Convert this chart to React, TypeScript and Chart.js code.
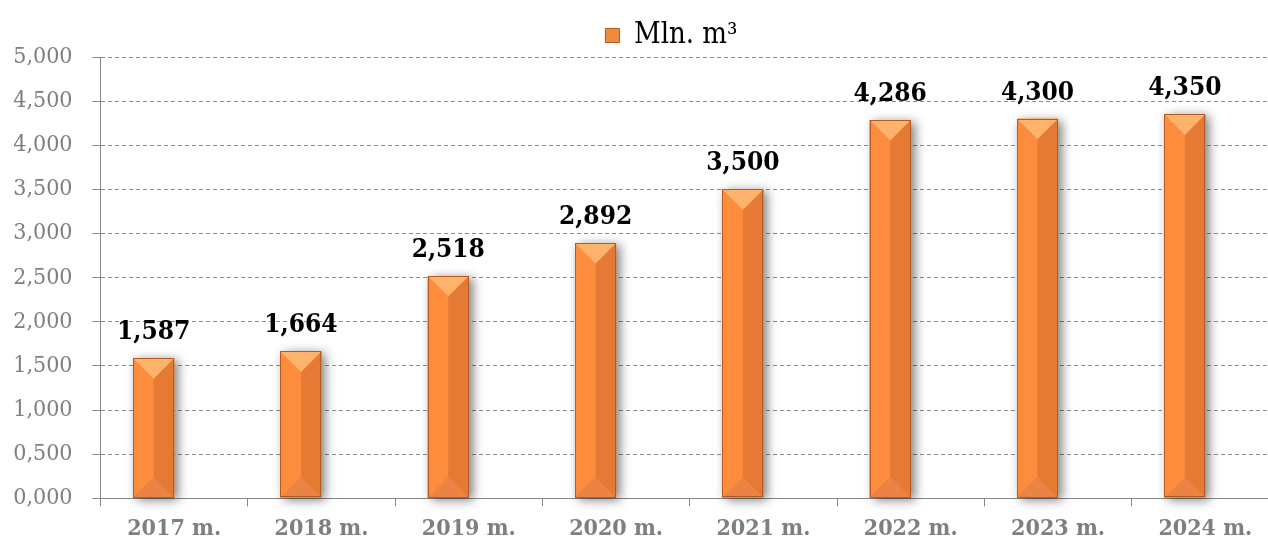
import { useEffect, useRef } from 'react';
import { Chart, registerables } from 'chart.js';

Chart.register(...registerables);

const categories = ['2017 m.', '2018 m.', '2019 m.', '2020 m.', '2021 m.', '2022 m.', '2023 m.', '2024 m.'];
const values = [1.587, 1.664, 2.518, 2.892, 3.5, 4.286, 4.3, 4.35];
const seriesName = 'Mln. m³';
const emptySeries = [null, null, null, null, null, null, null, null];
const yMin = 0;
const yMax = 5;
const yStep = 0.5;

const FONT = '"DejaVu Serif Condensed", "DejaVu Serif", serif';

const fmt = (v: number) => v.toFixed(3).replace('.', ',');

const bevelPlugin = {
  id: 'bevel',
  beforeDatasetDraw(chart: any, args: any) {
    if (args.index !== 0) return;
    const ctx = chart.ctx;
    args.meta.data.forEach((el: any) => {
      const { x, y, base, width } = el.getProps(['x', 'y', 'base', 'width'], true);
      ctx.save();
      ctx.shadowColor = 'rgba(0,0,0,0.5)';
      ctx.shadowBlur = 10;
      ctx.shadowOffsetX = 4;
      ctx.shadowOffsetY = 2;
      ctx.fillStyle = '#F58A3C';
      ctx.fillRect(x - width / 2, y, width, base - y);
      ctx.restore();
    });
  },
  afterDatasetDraw(chart: any, args: any) {
    if (args.index !== 0) return;
    const ctx = chart.ctx;
    args.meta.data.forEach((el: any) => {
      const { x, y, base, width } = el.getProps(['x', 'y', 'base', 'width'], true);
      const l = x - width / 2;
      const r = x + width / 2;
      const d = Math.min(width / 2, (base - y) / 2);
      const poly = (pts: number[][], color: string) => {
        ctx.beginPath();
        ctx.moveTo(pts[0][0], pts[0][1]);
        for (let i = 1; i < pts.length; i++) ctx.lineTo(pts[i][0], pts[i][1]);
        ctx.closePath();
        ctx.fillStyle = color;
        ctx.fill();
      };
      ctx.save();
      poly([[l, y], [x, y + d], [x, base - d], [l, base]], '#FD8C3C');
      poly([[r, y], [x, y + d], [x, base - d], [r, base]], '#E67A35');
      poly([[l, base], [r, base], [x, base - d]], '#EA8343');
      poly([[l, y], [r, y], [x, y + d]], '#FDB36C');
      ctx.strokeStyle = '#B55A22';
      ctx.lineWidth = 1;
      ctx.strokeRect(Math.round(l) + 0.5, Math.round(y) + 0.5, Math.round(width) - 1, Math.round(base - y) - 1);
      ctx.restore();
    });
  },
};

const labelPlugin = {
  id: 'valueLabels',
  afterDatasetsDraw(chart: any) {
    const ctx = chart.ctx;
    const meta = chart.getDatasetMeta(0);
    ctx.save();
    ctx.font = `bold 26px ${FONT}`;
    ctx.fillStyle = '#000000';
    ctx.textAlign = 'center';
    ctx.textBaseline = 'alphabetic';
    meta.data.forEach((el: any, i: number) => {
      const { x, y } = el.getProps(['x', 'y'], true);
      ctx.fillText(fmt(values[i]), x, y - 19);
    });
    ctx.restore();
  },
};

const legendShift = {
  id: 'legendShift',
  afterLayout(chart: any) {
    if (chart.legend) {
      chart.legend.left += 32;
      chart.legend.right += 32;
      chart.legend.top += 3;
      chart.legend.bottom += 3;
    }
  },
};

export default function App() {
  const ref = useRef<HTMLCanvasElement>(null);
  useEffect(() => {
    const canvas = ref.current;
    if (!canvas) return;
    const chart = new Chart(canvas, {
      type: 'bar',
      data: {
        labels: categories,
        datasets: [
          {
            label: seriesName,
            data: values,
            backgroundColor: '#F58A3C',
            borderColor: '#B55A22',
            borderWidth: 0,
          },
          {
            label: '',
            data: emptySeries as any,
            backgroundColor: 'rgba(0,0,0,0)',
          },
        ],
      },
      options: {
        responsive: false,
        animation: false,
        layout: { padding: { top: 8, right: 2, bottom: 0, left: 0 } },
        datasets: { bar: { categoryPercentage: 0.557, barPercentage: 1.0 } },
        plugins: {
          legend: {
            position: 'top',
            labels: {
              color: '#000000',
              font: { family: FONT, size: 29 },
              boxWidth: 14,
              boxHeight: 14,
              padding: 10,
              filter: (item: any) => item.datasetIndex === 0,
              generateLabels: () => [
                {
                  text: seriesName,
                  fillStyle: '#F08A3C',
                  strokeStyle: '#B55A22',
                  lineWidth: 1,
                  datasetIndex: 0,
                  hidden: false,
                } as any,
              ],
            },
          },
          tooltip: { enabled: false },
        },
        scales: {
          x: {
            afterFit: (scale: any) => {
              scale.height = 44.7;
            },
            grid: {
              display: true,
              drawOnChartArea: false,
              drawTicks: true,
              tickLength: 8,
              tickColor: '#868686',
              color: '#868686',
            },
            border: { display: true, color: '#868686', width: 1 },
            ticks: {
              color: '#7F7F7F',
              font: { family: FONT, size: 23, weight: 'bold' },
              padding: 9,
              maxRotation: 0,
            },
          },
          y: {
            min: yMin,
            max: yMax,
            afterFit: (scale: any) => {
              scale.width = 100.5;
            },
            grid: {
              color: '#8C8C8C',
              lineWidth: 1,
              tickLength: 8,
              tickColor: '#868686',
              tickBorderDash: [],
            },
            border: { display: true, color: '#868686', width: 1, dash: [4, 3] },
            ticks: {
              stepSize: yStep,
              color: '#7F7F7F',
              font: { family: FONT, size: 23 },
              padding: 20,
              callback: (v: any) => fmt(Number(v)),
            },
          },
        },
      },
      plugins: [bevelPlugin, labelPlugin, legendShift],
    });
    return () => chart.destroy();
  }, []);

  return (
    <div style={{ position: 'fixed', left: 0, top: 0, width: 1268, height: 543, overflow: 'hidden', background: '#ffffff' }}>
      <canvas ref={ref} width={1281} height={543} style={{ display: 'block' }} />
    </div>
  );
}
